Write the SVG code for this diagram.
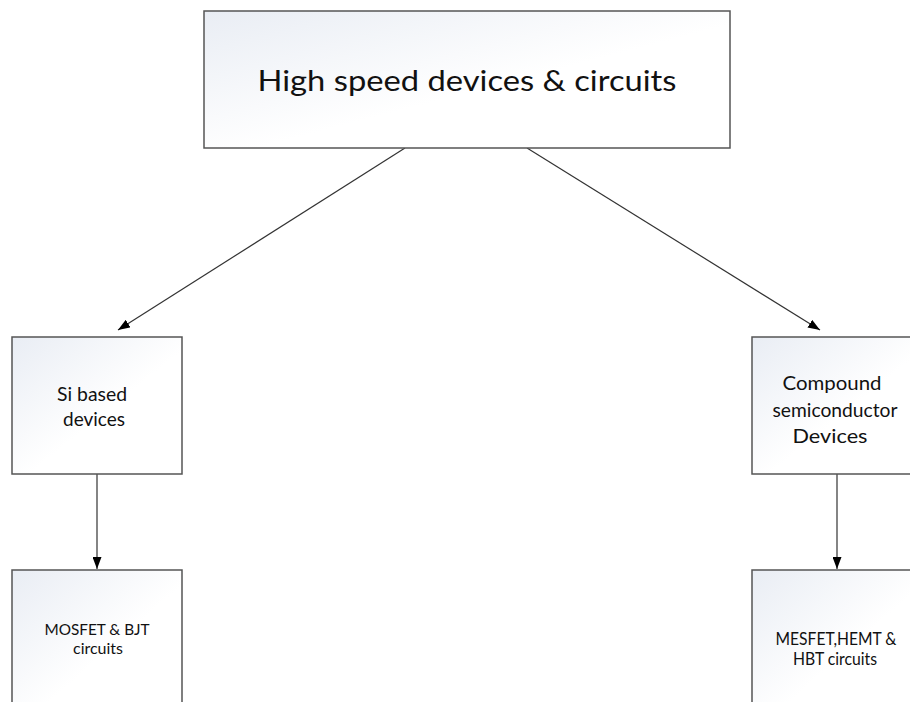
<svg xmlns="http://www.w3.org/2000/svg" width="910" height="702" viewBox="0 0 910 702">
  <defs>
    <linearGradient id="boxFill" x1="0" y1="0" x2="1" y2="1">
      <stop offset="0" stop-color="#e9edf4"/>
      <stop offset="0.55" stop-color="#ffffff"/>
    </linearGradient>
    <marker id="arrow" viewBox="0 0 12 9" refX="12" refY="4.5" markerWidth="12" markerHeight="9" markerUnits="userSpaceOnUse" orient="auto">
      <path d="M0,0 L12,4.5 L0,9 Z" fill="#000"/>
    </marker>
  </defs>
  <style>
    .box { fill: url(#boxFill); stroke: #555; stroke-width: 1.5; }
    .lbl { font-family: Lato, "Open Sans", "Liberation Sans", sans-serif; fill: #111; text-anchor: middle; }
    .conn { stroke: #333; stroke-width: 1.2; fill: none; marker-end: url(#arrow); }
  </style>
  <rect width="910" height="702" fill="#fff"/>

  <g id="connectors">
    <line class="conn" x1="405" y1="148" x2="118" y2="330"/>
    <line class="conn" x1="527" y1="148" x2="820" y2="330"/>
    <line class="conn" x1="97" y1="474" x2="97" y2="569"/>
    <line class="conn" x1="837" y1="474" x2="837" y2="569"/>
  </g>

  <g id="root">
    <rect class="box" x="204" y="11" width="526" height="137"/>
    <text class="lbl" x="467" y="91" font-size="28" textLength="419" lengthAdjust="spacingAndGlyphs">High speed devices &amp; circuits</text>
  </g>

  <g id="si-devices">
    <rect class="box" x="12" y="337" width="170" height="137"/>
    <text class="lbl" x="92" y="401" font-size="19" textLength="70" lengthAdjust="spacingAndGlyphs">Si based</text>
    <text class="lbl" x="94" y="426" font-size="19" textLength="62" lengthAdjust="spacingAndGlyphs">devices</text>
  </g>

  <g id="compound-devices">
    <rect class="box" x="752" y="337" width="170" height="137"/>
    <text class="lbl" x="832" y="390" font-size="19" textLength="99" lengthAdjust="spacingAndGlyphs">Compound</text>
    <text class="lbl" x="835" y="417" font-size="19" textLength="125" lengthAdjust="spacingAndGlyphs">semiconductor</text>
    <text class="lbl" x="830" y="443" font-size="19" textLength="75" lengthAdjust="spacingAndGlyphs">Devices</text>
  </g>

  <g id="si-circuits">
    <rect class="box" x="12" y="570" width="170" height="150"/>
    <text class="lbl" x="97" y="635" font-size="16" textLength="105" lengthAdjust="spacingAndGlyphs">MOSFET &amp; BJT</text>
    <text class="lbl" x="98" y="654" font-size="16" textLength="50" lengthAdjust="spacingAndGlyphs">circuits</text>
  </g>

  <g id="compound-circuits">
    <rect class="box" x="752" y="570" width="170" height="150"/>
    <text class="lbl" x="836" y="645" font-size="17" textLength="121" lengthAdjust="spacingAndGlyphs">MESFET,HEMT &amp;</text>
    <text class="lbl" x="835" y="665" font-size="17" textLength="84" lengthAdjust="spacingAndGlyphs">HBT circuits</text>
  </g>
</svg>
